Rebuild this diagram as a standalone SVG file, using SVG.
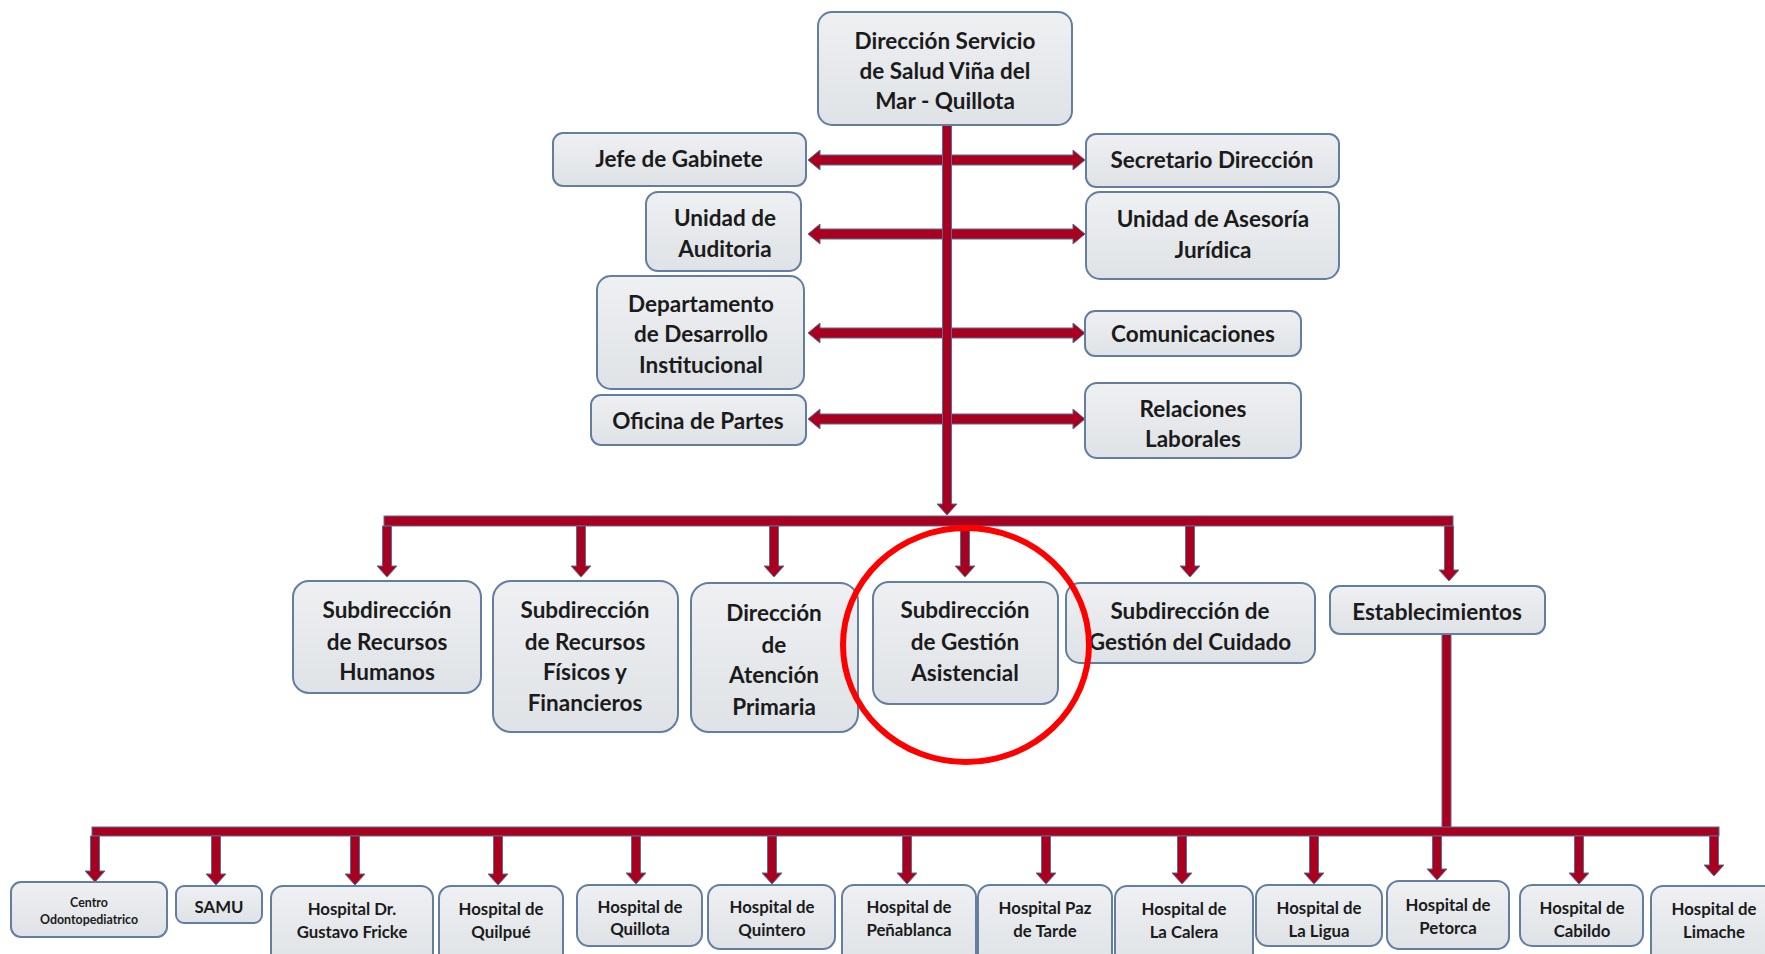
<svg xmlns="http://www.w3.org/2000/svg" width="1765" height="954" viewBox="0 0 1765 954">
<defs>
<linearGradient id="g" x1="0" y1="0" x2="0" y2="1"><stop offset="0" stop-color="#eef0f2"/><stop offset="1" stop-color="#dfe2e6"/></linearGradient>
</defs>
<style>
.box{fill:url(#g);stroke:#637ea0;stroke-width:2}
.t{font-family:Lato,"Open Sans","Liberation Sans",sans-serif;font-weight:bold;font-size:22.5px;fill:#1b1b1b;text-anchor:middle}
.s{font-size:16.8px}
.xs{font-size:12.4px}
.ar{fill:#a8001e;stroke:#566f93;stroke-width:1}
</style>
<rect width="1765" height="954" fill="#ffffff"/>
<g id="connectors">
<polygon class="ar" points="808,160 820,150 820,155 1073,155 1073,150 1085,160 1073,170 1073,165 820,165 820,170"/>
<polygon class="ar" points="808,234 820,224 820,229 1073,229 1073,224 1085,234 1073,244 1073,239 820,239 820,244"/>
<polygon class="ar" points="808,333 820,323 820,328 1073,328 1073,323 1085,333 1073,343 1073,338 820,338 820,343"/>
<polygon class="ar" points="808,419 820,409 820,414 1073,414 1073,409 1085,419 1073,429 1073,424 820,424 820,429"/>
<polygon class="ar" points="942.5,125 951.5,125 951.5,504 957,504 947,515 937,504 942.5,504"/>
<rect class="ar" x="384" y="516" width="1069" height="10"/>
<polygon class="ar" points="382.5,526 391.5,526 391.5,566 397,566 387,577 377,566 382.5,566"/>
<polygon class="ar" points="576.5,526 585.5,526 585.5,566 591,566 581,577 571,566 576.5,566"/>
<polygon class="ar" points="769.5,526 778.5,526 778.5,566 784,566 774,577 764,566 769.5,566"/>
<polygon class="ar" points="960.5,526 969.5,526 969.5,566 975,566 965,577 955,566 960.5,566"/>
<polygon class="ar" points="1185.5,526 1194.5,526 1194.5,566 1200,566 1190,577 1180,566 1185.5,566"/>
<polygon class="ar" points="1444.5,526 1453.5,526 1453.5,570 1459,570 1449,581 1439,570 1444.5,570"/>
<rect class="ar" x="1442" y="634" width="9" height="194"/>
<rect class="ar" x="92" y="827" width="1627" height="9"/>
<polygon class="ar" points="90.5,836 99.5,836 99.5,871 105,871 95,882 85,871 90.5,871"/>
<polygon class="ar" points="211.5,836 220.5,836 220.5,874 226,874 216,885 206,874 211.5,874"/>
<polygon class="ar" points="350.5,836 359.5,836 359.5,874 365,874 355,885 345,874 350.5,874"/>
<polygon class="ar" points="493.5,836 502.5,836 502.5,874 508,874 498,885 488,874 493.5,874"/>
<polygon class="ar" points="631.5,836 640.5,836 640.5,873 646,873 636,884 626,873 631.5,873"/>
<polygon class="ar" points="767.5,836 776.5,836 776.5,873 782,873 772,884 762,873 767.5,873"/>
<polygon class="ar" points="902.5,836 911.5,836 911.5,873 917,873 907,884 897,873 902.5,873"/>
<polygon class="ar" points="1041.5,836 1050.5,836 1050.5,873 1056,873 1046,884 1036,873 1041.5,873"/>
<polygon class="ar" points="1177.5,836 1186.5,836 1186.5,873 1192,873 1182,884 1172,873 1177.5,873"/>
<polygon class="ar" points="1309.5,836 1318.5,836 1318.5,873 1324,873 1314,884 1304,873 1309.5,873"/>
<polygon class="ar" points="1432.5,836 1441.5,836 1441.5,869 1447,869 1437,880 1427,869 1432.5,869"/>
<polygon class="ar" points="1574.5,836 1583.5,836 1583.5,873 1589,873 1579,884 1569,873 1574.5,873"/>
<polygon class="ar" points="1709.5,836 1718.5,836 1718.5,865 1724,865 1714,876 1704,865 1709.5,865"/>
</g>
<g id="n-direccion"><rect class="box" x="818" y="12" width="254" height="113" rx="14"/><text class="t" x="945" y="49">Dirección Servicio</text><text class="t" x="945" y="79">de Salud Viña del</text><text class="t" x="945" y="109">Mar - Quillota</text></g>
<g id="n-jefe"><rect class="box" x="553" y="133" width="253" height="53" rx="10"/><text class="t" x="679" y="167">Jefe de Gabinete</text></g>
<g id="n-secretario"><rect class="box" x="1086" y="134" width="253" height="53" rx="10"/><text class="t" x="1212" y="168">Secretario Dirección</text></g>
<g id="n-auditoria"><rect class="box" x="646" y="192" width="155" height="79" rx="12"/><text class="t" x="725" y="226">Unidad de</text><text class="t" x="725" y="257">Auditoria</text></g>
<g id="n-asesoria"><rect class="box" x="1086" y="192" width="253" height="87" rx="14"/><text class="t" x="1213" y="227">Unidad de Asesoría</text><text class="t" x="1213" y="258">Jurídica</text></g>
<g id="n-departamento"><rect class="box" x="597" y="276" width="207" height="113" rx="14"/><text class="t" x="701" y="312">Departamento</text><text class="t" x="701" y="342">de Desarrollo</text><text class="t" x="701" y="373">Institucional</text></g>
<g id="n-comunicaciones"><rect class="box" x="1085" y="311" width="216" height="45" rx="10"/><text class="t" x="1193" y="342">Comunicaciones</text></g>
<g id="n-oficina"><rect class="box" x="591" y="395" width="215" height="50" rx="10"/><text class="t" x="698" y="429">Oficina de Partes</text></g>
<g id="n-relaciones"><rect class="box" x="1085" y="383" width="216" height="75" rx="12"/><text class="t" x="1193" y="417">Relaciones</text><text class="t" x="1193" y="447">Laborales</text></g>
<g id="n-rrhh"><rect class="box" x="293" y="581" width="188" height="112" rx="16"/><text class="t" x="387" y="618">Subdirección</text><text class="t" x="387" y="650">de Recursos</text><text class="t" x="387" y="680">Humanos</text></g>
<g id="n-fisicos"><rect class="box" x="493" y="581" width="185" height="151" rx="18"/><text class="t" x="585" y="618">Subdirección</text><text class="t" x="585" y="650">de Recursos</text><text class="t" x="585" y="680">Físicos y</text><text class="t" x="585" y="711">Financieros</text></g>
<g id="n-aps"><rect class="box" x="691" y="583" width="167" height="149" rx="18"/><text class="t" x="774" y="621">Dirección</text><text class="t" x="774" y="653">de</text><text class="t" x="774" y="683">Atención</text><text class="t" x="774" y="715">Primaria</text></g>
<g id="n-asistencial"><rect class="box" x="873" y="582" width="185" height="122" rx="16"/><text class="t" x="965" y="618">Subdirección</text><text class="t" x="965" y="650">de Gestión</text><text class="t" x="965" y="681">Asistencial</text></g>
<g id="n-cuidado"><rect class="box" x="1066" y="583" width="249" height="80" rx="14"/><text class="t" x="1190" y="619">Subdirección de</text><text class="t" x="1190" y="650">Gestión del Cuidado</text></g>
<g id="n-establecimientos"><rect class="box" x="1330" y="586" width="215" height="48" rx="10"/><text class="t" x="1437" y="620">Establecimientos</text></g>
<g id="n-centro"><rect class="box" x="11" y="882" width="156" height="55" rx="10"/><text class="t xs" x="89" y="907">Centro</text><text class="t xs" x="89" y="924">Odontopediatrico</text></g>
<g id="n-samu"><rect class="box" x="176" y="886" width="86" height="37" rx="8"/><text class="t s" x="219" y="913">SAMU</text></g>
<g id="n-fricke"><rect class="box" x="271" y="886" width="162" height="80" rx="12"/><text class="t s" x="352" y="915">Hospital Dr.</text><text class="t s" x="352" y="938">Gustavo Fricke</text></g>
<g id="n-quilpue"><rect class="box" x="439" y="886" width="124" height="80" rx="12"/><text class="t s" x="501" y="915">Hospital de</text><text class="t s" x="501" y="938">Quilpué</text></g>
<g id="n-quillota"><rect class="box" x="577" y="885" width="125" height="61" rx="12"/><text class="t s" x="640" y="913">Hospital de</text><text class="t s" x="640" y="935">Quillota</text></g>
<g id="n-quintero"><rect class="box" x="708" y="885" width="127" height="64" rx="12"/><text class="t s" x="772" y="913">Hospital de</text><text class="t s" x="772" y="936">Quintero</text></g>
<g id="n-penablanca"><rect class="box" x="842" y="885" width="134" height="80" rx="12"/><text class="t s" x="909" y="913">Hospital de</text><text class="t s" x="909" y="936">Peñablanca</text></g>
<g id="n-paz"><rect class="box" x="978" y="885" width="134" height="80" rx="12"/><text class="t s" x="1045" y="914">Hospital Paz</text><text class="t s" x="1045" y="937">de Tarde</text></g>
<g id="n-calera"><rect class="box" x="1115" y="886" width="138" height="80" rx="12"/><text class="t s" x="1184" y="915">Hospital de</text><text class="t s" x="1184" y="938">La Calera</text></g>
<g id="n-ligua"><rect class="box" x="1256" y="885" width="126" height="61" rx="12"/><text class="t s" x="1319" y="914">Hospital de</text><text class="t s" x="1319" y="937">La Ligua</text></g>
<g id="n-petorca"><rect class="box" x="1387" y="881" width="122" height="68" rx="12"/><text class="t s" x="1448" y="911">Hospital de</text><text class="t s" x="1448" y="934">Petorca</text></g>
<g id="n-cabildo"><rect class="box" x="1520" y="885" width="123" height="61" rx="12"/><text class="t s" x="1582" y="914">Hospital de</text><text class="t s" x="1582" y="937">Cabildo</text></g>
<g id="n-limache"><rect class="box" x="1651" y="886" width="130" height="80" rx="12"/><text class="t s" x="1714" y="915">Hospital de</text><text class="t s" x="1714" y="938">Limache</text></g>
<ellipse id="highlight" cx="966" cy="645" rx="123" ry="117" fill="none" stroke="#ff0000" stroke-width="6"/>
</svg>
